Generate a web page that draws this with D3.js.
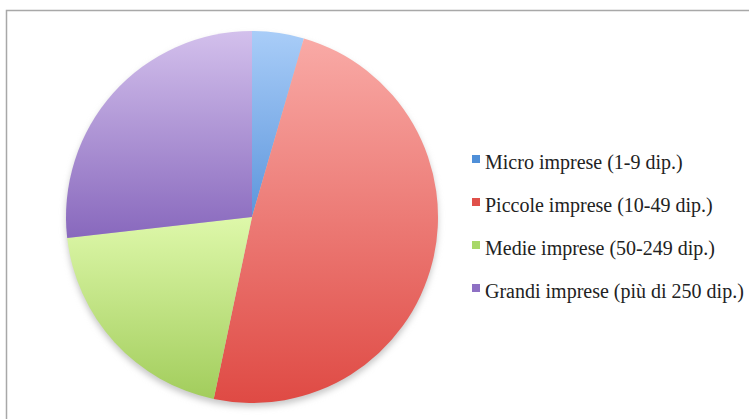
<!DOCTYPE html>
<html>
<head>
<meta charset="utf-8">
<script src="https://cdn.jsdelivr.net/npm/d3@7"></script>
<style>
  html, body { margin: 0; padding: 0; background: #ffffff; }
  svg { display: block; }
</style>
</head>
<body>
<svg id="chart" width="749" height="419"></svg>
<script>
const categories = [
  "Micro imprese (1-9 dip.)",
  "Piccole imprese (10-49 dip.)",
  "Medie imprese (50-249 dip.)",
  "Grandi imprese (più di 250 dip.)"
];
const values = [4.5, 48.8, 19.9, 26.8];
const topColors = ["#a9cdf8", "#f9aaa6", "#def8aa", "#d3c0ec"];
const bottomColors = ["#5d96dc", "#df4a44", "#a2cd5c", "#8868bd"];
const legendColors = ["#4f8fd8", "#e0504a", "#a8d868", "#8e70c4"];

const svg = d3.select("#chart");
const cx = 252, cy = 217, R = 186;

// border frame
svg.append("rect")
  .attr("x", 6.5).attr("y", 10.5)
  .attr("width", 800).attr("height", 500)
  .attr("fill", "none")
  .attr("stroke", "#a8a8a8")
  .attr("stroke-width", 1.5);

const defs = svg.append("defs");
categories.forEach((c, i) => {
  const g = defs.append("linearGradient")
    .attr("id", "grad" + i)
    .attr("x1", 0).attr("y1", 0).attr("x2", 0).attr("y2", 1);
  g.append("stop").attr("offset", "0%").attr("stop-color", topColors[i]);
  g.append("stop").attr("offset", "100%").attr("stop-color", bottomColors[i]);
});
const shadow = defs.append("filter").attr("id", "shadow")
  .attr("x", "-10%").attr("y", "-10%").attr("width", "120%").attr("height", "120%");
shadow.append("feGaussianBlur").attr("stdDeviation", 3);

const pie = d3.pie().sort(null).value(d => d)(values);
const arc = d3.arc().innerRadius(0).outerRadius(R);

const g = svg.append("g").attr("transform", `translate(${cx},${cy})`);
g.append("circle")
  .attr("cx", 0).attr("cy", 4).attr("r", R)
  .attr("fill", "#c8c8c8")
  .attr("filter", "url(#shadow)");
g.selectAll("path.slice")
  .data(pie)
  .enter().append("path")
  .attr("class", "slice")
  .attr("d", arc)
  .attr("fill", (d, i) => `url(#grad${i})`);

// legend
const legendY = d3.scalePoint().domain(categories).range([169, 298]);
const lg = svg.append("g");
categories.forEach((c, i) => {
  const y = legendY(c);
  lg.append("rect")
    .attr("x", 472).attr("y", y - 14)
    .attr("width", 8).attr("height", 8)
    .attr("fill", legendColors[i]);
  lg.append("text")
    .attr("x", 485).attr("y", y)
    .attr("font-family", "Liberation Serif, serif")
    .attr("font-size", 20)
    .attr("fill", "#222")
    .text(c);
});
</script>
</body>
</html>
